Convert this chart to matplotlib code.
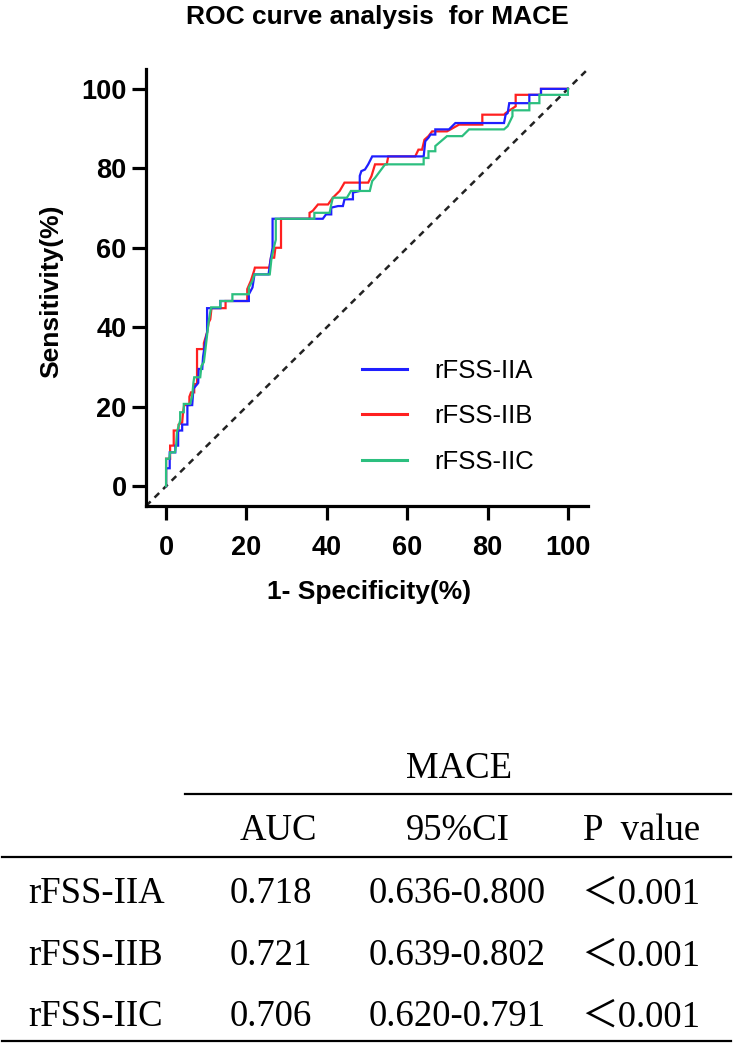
import matplotlib
matplotlib.use("Agg")
import matplotlib.pyplot as plt
from matplotlib.lines import Line2D

# ROC curves: (1-specificity %, sensitivity %)
iia_pts = [(0, 0), (0, 4.5), (0.9, 4.5), (0.9, 8.5), (2.3, 8.5), (2.3, 10.2), (3, 10.2), (3, 14),
           (4, 14), (4, 15.5), (5.3, 15.5), (5.3, 20.4), (6.5, 20.4), (6.8, 24.5), (8, 26),
           (8.1, 29.5), (9, 29.5), (9.2, 32.6), (9.8, 36.6), (10.2, 38.7), (10.2, 44.8),
           (13.5, 44.8), (13.5, 46.6), (20.6, 46.6), (20.6, 48.3), (21.5, 50), (22, 53.3),
           (25.5, 53.3), (26, 57), (26.5, 60), (26.5, 67.3), (39, 67.3), (39.8, 68.4),
           (41.1, 68.4), (41.1, 70.1), (42.8, 70.5), (44, 70.5), (44.4, 72.2), (46.5, 72.2),
           (46.5, 73.9), (48.2, 74.3), (48.2, 78.1), (48.6, 79.3), (49.5, 79.7), (50.3, 81),
           (51.3, 83), (64.1, 83), (64.5, 86.8), (65.3, 87.7), (65.8, 88.5), (67, 88.5),
           (67, 89.8), (70.4, 89.8), (72, 91.4), (84.1, 91.4), (84.5, 93.5), (85, 93.9),
           (85.4, 96.4), (90.4, 96.4), (90.4, 98.5), (93.3, 98.5), (93.3, 100), (100, 100)]

iib_pts = [(0, 0), (0, 6.9), (1, 6.9), (1, 10.2), (1.9, 10.2), (1.9, 14), (3.1, 14), (3.1, 15.5),
           (4, 16), (4.2, 18.4), (4.5, 20.4), (5.8, 20.4), (5.8, 22.5), (6.2, 23.6), (7, 23.6),
           (7, 25.7), (7.7, 25.7), (7.7, 34.5), (9.4, 34.5), (9.4, 36), (10.2, 38.7),
           (10.6, 41.2), (11, 42), (11.3, 44.8), (14.8, 44.8), (14.8, 46.6), (20.2, 46.6),
           (20.2, 49.6), (21.1, 51.7), (21.9, 54.2), (22.1, 55), (25.7, 55), (26.1, 57.5),
           (26.9, 57.5), (27.2, 60), (28.6, 60), (28.6, 67.3), (35.7, 67.3), (35.7, 68.8),
           (36.5, 69.3), (37.8, 70.9), (40.3, 70.9), (41.5, 72.6), (43.2, 74.3), (44.4, 76.4),
           (50.3, 76.4), (51.1, 78), (52, 81), (54.9, 81), (55.3, 83), (62, 83), (62.8, 84.7),
           (63.7, 84.7), (64.3, 87.2), (65.3, 88.1), (66.2, 89.3), (69.9, 89.3), (70.8, 89.8),
           (72.9, 91), (78.7, 91), (78.7, 93.5), (84.1, 93.5), (84.5, 93.9), (85.8, 94.8),
           (87, 95.6), (87, 98.5), (93.3, 98.5), (93.3, 100), (100, 100)]

iic_pts = [(0, 0), (0, 6.9), (0.8, 6.9), (1, 8.5), (2.2, 8.5), (2.5, 10.2), (2.7, 13.6),
           (3.5, 16.5), (3.5, 18.6), (4.4, 18.6), (4.4, 20.7), (6, 20.7), (6.5, 22.8), (6.8, 26),
           (7, 27.4), (8.5, 27.4), (8.8, 30.3), (9.4, 31.2), (9.8, 34.5), (10.2, 38),
           (10.6, 41.5), (11.2, 45), (13.5, 45), (13.5, 46.6), (16.5, 46.6), (16.5, 48.3),
           (20.6, 48.3), (20.6, 50), (21.5, 51.7), (22, 53.3), (25.8, 53.3), (26.2, 57),
           (26.8, 60), (27.3, 62), (27.3, 67.3), (36.9, 67.3), (36.9, 68.8), (40.7, 68.8),
           (41.1, 70.9), (41.5, 72.6), (45, 72.6), (46, 74.3), (50.7, 74.3), (51.3, 76.8),
           (52, 77.6), (54.5, 81), (64.1, 81), (64.1, 82.6), (65.3, 82.6), (65.3, 84.3),
           (67, 84.3), (67, 85.6), (69.9, 88.1), (73.7, 88.1), (75.4, 89.8), (84.1, 89.8),
           (85, 90.6), (86.2, 93.1), (86.2, 94.6), (90.4, 94.6), (90.4, 96.4), (92.9, 96.4),
           (92.9, 98.5), (100, 98.5), (100, 100)]

labels = ["rFSS-IIA", "rFSS-IIB", "rFSS-IIC"]
colors = ["#1f1fff", "#ff2020", "#2cbf7f"]
ticks = [0, 20, 40, 60, 80, 100]

# table under the chart
tbl_group = "MACE"
tbl_cols = ["AUC", "95%CI", "P  value"]
auc = ["0.718", "0.721", "0.706"]
ci95 = ["0.636-0.800", "0.639-0.802", "0.620-0.791"]
pval = ["\uff1c0.001", "\uff1c0.001", "\uff1c0.001"]

W, H = 733, 1044
fig = plt.figure(figsize=(W / 100, H / 100), dpi=100)

def fx(x):
    return x / W

def fy(y):
    return 1 - y / H

sans = "Liberation Sans"
ax = fig.add_axes([fx(146), fy(506), (588 - 146) / W, (506 - 69) / H])

# draw order: red under blue, green on top
for pts, lab, col in [(iib_pts, labels[1], colors[1]), (iia_pts, labels[0], colors[0]),
                      (iic_pts, labels[2], colors[2])]:
    xs = [p[0] for p in pts]
    ys = [p[1] for p in pts]
    ax.plot(xs, ys, color=col, lw=1.6, label=lab, solid_joinstyle="miter")

ax.axline((0, 0), (100, 100), color="#222222", lw=1.8, ls=(0, (2.6, 2.2)), zorder=1)

ax.set_xlim(-5, 105)
ax.set_ylim(-5, 105)
ax.set_xticks(ticks)
ax.set_yticks(ticks)
for s in ["top", "right"]:
    ax.spines[s].set_visible(False)
for s in ["left", "bottom"]:
    ax.spines[s].set_linewidth(2.3)
ax.tick_params(direction="out", length=10, width=2.3)
ax.tick_params(axis="x", pad=11)
ax.tick_params(axis="y", pad=4)
for t in ax.get_xticklabels() + ax.get_yticklabels():
    t.set_fontfamily(sans)
    t.set_fontweight("bold")
    t.set_fontsize(19.5)

handles, labs = ax.get_legend_handles_labels()
order = [labs.index(l) for l in labels]
leg = fig.legend([handles[i] for i in order], labels, loc="upper left",
                 bbox_to_anchor=(fx(362), fy(359)), frameon=False,
                 prop={"family": sans, "size": 18.5}, handlelength=1.75,
                 handletextpad=1.05, labelspacing=0.83, borderpad=0, borderaxespad=0)
for h in leg.get_lines():
    h.set_linewidth(2.2)

fig.text(fx(377), fy(17), "ROC curve analysis  for MACE", ha="center", va="center",
         fontfamily=sans, fontweight="bold", fontsize=19)
fig.text(fx(51), fy(291), "Sensitivity(%)", ha="center", va="center", rotation=90,
         fontfamily=sans, fontweight="bold", fontsize=19)
fig.text(fx(369), fy(592), "1- Specificity(%)", ha="center", va="center",
         fontfamily=sans, fontweight="bold", fontsize=19)

# table
serif = ["Liberation Serif", "Noto Sans CJK SC"]
tsize = 26.5
fig.text(fx(459), fy(769), tbl_group, ha="center", va="center", family=serif, fontsize=tsize)
for x, lab in zip([278, 458, 642], tbl_cols):
    fig.text(fx(x), fy(831), lab, ha="center", va="center", family=serif, fontsize=tsize)
for y, lab, a, c, p in zip([894, 956, 1017], labels, auc, ci95, pval):
    fig.text(fx(28), fy(y), lab, ha="left", va="center", family=serif, fontsize=tsize)
    fig.text(fx(271), fy(y), a, ha="center", va="center", family=serif, fontsize=tsize)
    fig.text(fx(457), fy(y), c, ha="center", va="center", family=serif, fontsize=tsize)
    fig.text(fx(641), fy(y), p, ha="center", va="center", family=serif, fontsize=tsize)

for x0, x1, y in [(185, 731, 794), (2, 731, 857), (2, 731, 1041)]:
    fig.add_artist(Line2D([fx(x0), fx(x1)], [fy(y), fy(y)], color="black", lw=1.6,
                          transform=fig.transFigure))

fig.savefig("out.png", dpi=100)
